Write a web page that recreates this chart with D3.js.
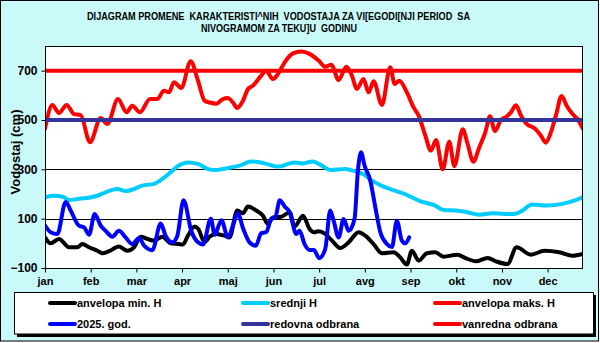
<!DOCTYPE html>
<html><head><meta charset="utf-8">
<script src="https://cdn.jsdelivr.net/npm/d3@7"></script>
<style>html,body{margin:0;padding:0;background:#fff;}svg{display:block;}</style>
</head><body>
<script>
// ---------- DATA ----------
const monthLabels = ["jan","feb","mar","apr","maj","jun","jul","avg","sep","okt","nov","dec"];
const monthTickDays = [0,31,62,93,124,155,186,217,248,279,310,341];
const yTickValues = [-100,100,300,500,700];
const gridValues = [100,300,500,700];

const maxDays = [0,5,9.5,14.7,19.7,24.2,30.5,37.8,42.3,49.5,55.4,59.2,64.4,71.2,76.2,80.7,84.1,87.5,92.5,98.8,103.8,108.3,111.7,116.2,120.7,124,127.5,130.4,134.3,137.7,141,146.7,150,154.6,158,162.6,168.2,173.9,179.5,185.6,190.1,194.2,199.2,204.4,208.2,211.6,216.1,219.5,222.9,228.6,234.2,237.2,240.3,245.5,250.1,253.5,258,261.8,265.3,269.8,274.3,277.7,283.4,286.7,290.6,294.6,298.7,301.9,305.3,309.3,313.2,316.1,319.5,322.9,326.3,332.6,336.4,339.8,343.2,346.6,350.5,353.9,357.9,361.3,364.8];
const maxVals = [464,561,528,561,524,520,410,508,484,585,531,558,531,585,585,619,612,653,630,738,659,578,571,566,585,589,571,549,578,626,639,680,700,666,686,734,770,778,768,741,716,724,662,716,680,626,666,612,657,561,714,646,659,612,551,518,437,376,419,300,412,313,462,403,331,389,450,515,455,500,514,531,560,518,487,464,437,408,450,518,597,558,524,504,466];

const meanDays = [0,6,12,16.3,22,28.7,35.5,41.1,49,55,60.4,66,74,79.6,85.2,90.5,97,103.8,110.6,115.1,124,132,139.9,147.9,158,169.3,175,181.5,187.9,193.5,203.7,210.5,216.1,221.8,229.7,238.8,246.7,253.5,264.8,270.4,278.8,286.7,294.6,303.7,311.6,318.4,324,330.3,339.8,351.1,359,364.7];
const meanVals = [187,193,189,176,180,184,193,207,220,212,220,234,241,261,288,315,328,322,301,297,305,315,332,326,311,328,324,332,315,297,301,292,280,254,230,211,193,173,153,135,133,126,116,122,119,119,133,157,153,160,173,187];

const minDays = [0,3.8,9.5,16.3,22,25.3,29.9,35.5,38.9,43.4,50.2,55.8,60.4,64.9,69.4,74,79.6,85.2,90.5,93.5,97,101.5,104,108.3,111.7,116.2,121.9,125.2,130.4,134.3,137.7,143.3,147.9,151.2,154.6,160.3,166,169.3,175,179.5,182.4,185.6,190.1,194.7,200.3,206,212.8,217.3,222.9,228.6,236.5,241,245.5,248.9,253.5,259.1,264.8,270.4,279.9,285,292.3,300.3,305.9,313.8,319.9,329.7,338.7,348.9,357.9,364.7];
const minVals = [24,0,18,-16,-16,-3,-16,-30,-40,-32,-13,-30,-16,27,18,11,27,0,-3,-5,31,68,58,5,27,38,31,24,133,122,149,133,112,78,105,108,126,68,112,58,45,49,38,11,-19,4,45,31,-3,-40,-36,-57,-86,-30,-70,-40,-36,-54,-46,-59,-73,-59,-73,-84,-16,-46,-30,-36,-50,-43];

const curDays = [0,3.8,8.4,14,17.4,23,26.5,29.9,33.7,37.8,41.1,45.7,50.2,54.7,59.2,63.8,67.2,72.8,78.5,81.8,86.4,89.8,94,99.2,103.8,107.2,112.5,115.1,119.7,124.1,127.5,130.8,134.3,138.8,143,146.7,150.1,153.5,156.2,159.3,162.6,166,170.5,172.7,176.1,179.5,182.4,186,190.1,193.5,195.8,199.2,202.6,206,210,212.3,214.4,216.8,220.7,224.1,227.5,232,235.4,238.7,242.1,244.4,247.1];
const curVals = [72,45,38,168,133,72,65,35,119,72,51,27,51,24,-3,22,-9,-28,80,31,4,31,175,51,4,-5,100,35,94,24,72,122,62,4,-10,41,45,99,105,175,149,126,38,51,-3,-27,-27,-60,-23,133,92,24,99,51,99,295,369,315,254,146,45,-3,-15,92,11,0,24];

const levelDays = [0,365];
const redovnaVals = [500,500];
const vanrednaVals = [700,700];

const seriesNames = ["anvelopa min. H","srednji H","anvelopa maks. H","2025. god.","redovna odbrana","vanredna odbrana"];
const titleLines = ["DIJAGRAM PROMENE  KARAKTERISTI^NIH  VODOSTAJA ZA VI[EGODI[NJI PERIOD  SA","NIVOGRAMOM ZA TEKU]U  GODINU"];
const yTitle = "Vodostaj (cm)";

// ---------- DRAW ----------
const W = 600, H = 343;
const L = 45, R = 583, T = 46, B = 268;
const font = "'Liberation Sans', Arial, sans-serif";

const svg = d3.select("body").append("svg").attr("width", W).attr("height", H);

svg.append("rect").attr("x",0).attr("y",0).attr("width",W).attr("height",H).attr("fill","#fff");
svg.append("rect").attr("x",0.5).attr("y",0.5).attr("width",W-2).attr("height",H-2.5)
  .attr("fill","#c9f9f9").attr("stroke","#000").attr("stroke-width",1);

const x = d3.scaleLinear().domain([0,365]).range([L,R]);
const y = d3.scaleLinear().domain([-100,800]).range([B,T]);

// title
titleLines.forEach((t,i)=>{
  svg.append("text").attr("x", i===0?87:201).attr("y", i===0?20:31.5)
    .attr("xml:space","preserve").style("white-space","pre")
    .attr("font-family","'Liberation Sans Narrow','Arial Narrow'," + font)
    .attr("font-weight","bold").attr("font-size","10.5px")
    .attr("textLength", i===0?383:156).attr("lengthAdjust","spacingAndGlyphs")
    .attr("fill","#000").text(t);
});

// plot background
svg.append("rect").attr("x",L).attr("y",T).attr("width",R-L).attr("height",B-T).attr("fill","#fff");

// gridlines
svg.append("g").selectAll("line").data(gridValues).join("line")
  .attr("x1",L).attr("x2",R).attr("y1",d=>Math.round(y(d))+0.5).attr("y2",d=>Math.round(y(d))+0.5)
  .attr("stroke","#000").attr("stroke-width",1);

svg.append("defs").append("clipPath").attr("id","clip")
  .append("rect").attr("x",L).attr("y",T).attr("width",R-L).attr("height",B-T);

const line = d3.line().x(d=>x(d[0])).y(d=>y(d[1])).curve(d3.curveMonotoneX);
const zip = (a,b)=>a.map((d,i)=>[d,b[i]]);

const series = [
  {days:minDays, vals:minVals, color:"#000000"},
  {days:meanDays, vals:meanVals, color:"#00ccff"},
  {days:maxDays, vals:maxVals, color:"#ff0000"},
  {days:curDays, vals:curVals, color:"#0000ff"},
  {days:levelDays, vals:redovnaVals, color:"#333399"},
  {days:levelDays, vals:vanrednaVals, color:"#ff0000"}
];
const gS = svg.append("g").attr("clip-path","url(#clip)");
series.forEach(s=>{
  gS.append("path").attr("d", line(zip(s.days,s.vals)))
    .attr("fill","none").attr("stroke",s.color).attr("stroke-width",4)
    .attr("stroke-linejoin","round").attr("stroke-linecap","round");
});

// plot border
svg.append("rect").attr("x",L+0.5).attr("y",T+0.5).attr("width",R-L-1).attr("height",B-T)
  .attr("fill","none").attr("stroke","#000").attr("stroke-width",1);

// axes
const xAxis = d3.axisBottom(x).tickValues(monthTickDays).tickFormat((d,i)=>monthLabels[i]).tickSizeOuter(0).tickSize(4).tickPadding(5);
const gx = svg.append("g").attr("transform",`translate(0,${B+0.5})`).call(xAxis);
gx.select(".domain").remove();
gx.selectAll("text").attr("font-family",font).attr("font-weight","bold").attr("font-size","11px").attr("fill","#000");

const yAxis = d3.axisLeft(y).tickValues(yTickValues).tickFormat(d3.format("d")).tickSizeOuter(0).tickSize(4).tickPadding(4);
const gy = svg.append("g").attr("transform",`translate(${L+0.5},0)`).call(yAxis);
gy.select(".domain").remove();
gy.selectAll("text").attr("font-family",font).attr("font-weight","bold").attr("font-size","12px").attr("fill","#000");

// y title
svg.append("text").attr("transform","translate(20,152) rotate(-90)")
  .attr("text-anchor","middle").attr("font-family",font).attr("font-weight","bold").attr("font-size","13px")
  .attr("fill","#000").text(yTitle);

// legend
const lg = svg.append("g");
lg.append("rect").attr("x",17).attr("y",295).attr("width",579).attr("height",42).attr("fill","#000");
lg.append("rect").attr("x",14.5).attr("y",292.5).attr("width",579).attr("height",41.5).attr("fill","#fff").attr("stroke","#000");
const colX = [48,241,433], rowY = [303,324];
series.forEach((s,i)=>{
  const cx = colX[i%3], cy = rowY[Math.floor(i/3)];
  lg.append("line").attr("x1",cx+2).attr("x2",cx+27).attr("y1",cy).attr("y2",cy)
    .attr("stroke",s.color).attr("stroke-width",4).attr("stroke-linecap","round");
  lg.append("text").attr("x",cx+29).attr("y",cy).attr("dy","0.35em")
    .attr("font-family",font).attr("font-weight","bold").attr("font-size","11px").attr("fill","#000")
    .text(seriesNames[i]);
});
</script>
</body></html>
